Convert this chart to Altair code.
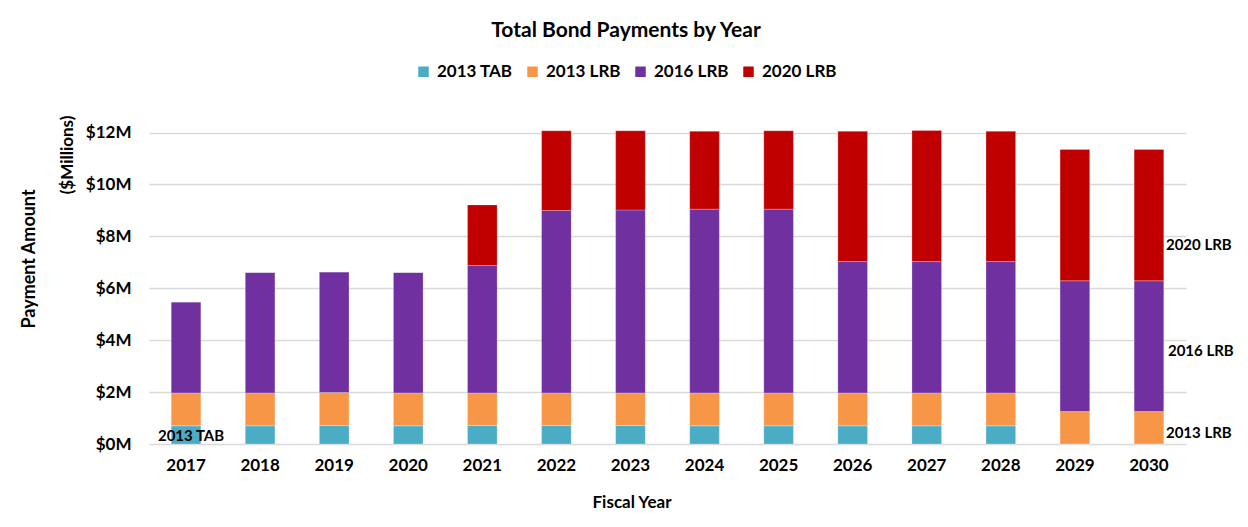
import altair as alt
import pandas as pd

years = [str(y) for y in range(2017, 2031)]
series = ["2013 TAB", "2013 LRB", "2016 LRB", "2020 LRB"]
colors = ["#4BACC6", "#F79646", "#7030A0", "#C00000"]

tab_2013 = [0.70, 0.70, 0.71, 0.70, 0.71, 0.71, 0.71, 0.70, 0.70, 0.70, 0.70, 0.70, 0.0, 0.0]
lrb_2013 = [1.27, 1.27, 1.27, 1.27, 1.26, 1.26, 1.26, 1.27, 1.27, 1.27, 1.27, 1.27, 1.25, 1.25]
lrb_2016 = [3.50, 4.64, 4.65, 4.64, 4.91, 7.03, 7.05, 7.08, 7.08, 5.06, 5.06, 5.06, 5.04, 5.04]
lrb_2020 = [0.0, 0.0, 0.0, 0.0, 2.33, 3.07, 3.05, 3.00, 3.02, 5.02, 5.05, 5.02, 5.06, 5.06]

y_ticks = [0, 2, 4, 6, 8, 10, 12]

# annotation labels (text, anchor year, anchor value, dx, align)
ann_text = ["2020 LRB", "2016 LRB", "2013 LRB", "2013 TAB"]
ann_year = ["2030", "2030", "2030", "2017"]
ann_val = [7.68, 3.60, 0.44, 0.32]
ann_dx = [17, 19, 17, 5]
ann_align = ["left", "left", "left", "center"]

rows = []
for i, y in enumerate(years):
    for k, (s, vals) in enumerate(zip(series, [tab_2013, lrb_2013, lrb_2016, lrb_2020])):
        rows.append({"year": y, "series": s, "value": vals[i], "order": k})
df = pd.DataFrame(rows)

ann = pd.DataFrame({"text": ann_text, "year": ann_year, "value": ann_val,
                    "dx": ann_dx, "align": ann_align})

FONT = "Lato"
W, H = 1037, 314

x_scale = alt.Scale(paddingInner=0.6, paddingOuter=0.3)
y_scale = alt.Scale(domain=[0, 12.1], nice=False)

x_enc = alt.X("year:N", sort=years, title=None, scale=x_scale,
              axis=alt.Axis(labelAngle=0, labelFontSize=17, labelFontWeight="bold",
                            labelColor="#000000", labelPadding=13, ticks=False,
                            domain=False, grid=False, labelFont=FONT))

bars = alt.Chart(df).mark_bar(stroke="#ffffff", strokeWidth=0.4, strokeOpacity=0.6).encode(
    x=x_enc,
    y=alt.Y("value:Q", stack="zero", scale=y_scale, title=None,
            axis=alt.Axis(values=y_ticks, labelExpr="'$' + datum.value + 'M'",
                          labelFontSize=17, labelFontWeight="bold", labelColor="#000000",
                          labelPadding=18, ticks=False, domain=False,
                          gridColor="#D9D9D9", gridWidth=1.5, labelFont=FONT)),
    color=alt.Color("series:N", sort=series,
                    scale=alt.Scale(domain=series, range=colors),
                    legend=alt.Legend(title=None, orient="none", direction="horizontal",
                                      columns=4, legendX=266, legendY=-67,
                                      symbolType="square", symbolSize=110,
                                      symbolStrokeWidth=0, labelFontSize=17,
                                      labelFontWeight="bold", labelColor="#000000",
                                      labelFont=FONT, columnPadding=11, labelOffset=5)),
    order=alt.Order("order:Q", sort="ascending"),
)

ann_layers = []
for i in range(len(ann_text)):
    sub = ann.iloc[[i]]
    ann_layers.append(
        alt.Chart(sub).mark_text(fontSize=15, fontWeight="bold", font=FONT, color="#000000",
                                 align=ann_align[i], baseline="middle", dx=ann_dx[i]).encode(
            x=alt.X("year:N", sort=years, scale=x_scale),
            y=alt.Y("value:Q", scale=y_scale),
            text="text:N",
        )
    )

title_df = pd.DataFrame({"t": ["Total Bond Payments by Year"]})
title = alt.Chart(title_df).mark_text(fontSize=21, fontWeight="bold", font=FONT,
                                      color="#000000", align="center", baseline="middle").encode(
    x=alt.value(477), y=alt.value(-99), text="t:N")

xt_df = pd.DataFrame({"t": ["Fiscal Year"]})
xtitle = alt.Chart(xt_df).mark_text(fontSize=17, fontWeight="bold", font=FONT,
                                    color="#000000", align="center", baseline="middle").encode(
    x=alt.value(483), y=alt.value(373), text="t:N")

yt1_df = pd.DataFrame({"t": ["Payment Amount"]})
ytitle1 = alt.Chart(yt1_df).mark_text(fontSize=18, fontWeight="bold", font=FONT, angle=270,
                                      color="#000000", align="center", baseline="middle").encode(
    x=alt.value(-119), y=alt.value(129), text="t:N")

yt2_df = pd.DataFrame({"t": ["($Millions)"]})
ytitle2 = alt.Chart(yt2_df).mark_text(fontSize=17, fontWeight="bold", font=FONT, angle=270,
                                      color="#000000", align="center", baseline="middle").encode(
    x=alt.value(-81), y=alt.value(25), text="t:N")

chart = alt.layer(bars, *ann_layers, title, xtitle, ytitle1, ytitle2).properties(
    width=W, height=H,
    background="#ffffff",
    autosize=alt.AutoSizeParams(type="none"),
    padding={"left": 141, "top": 122, "right": 54, "bottom": 75},
).configure_view(stroke=None)

chart.save("out.html", embed_options={"renderer": "svg", "actions": False})
